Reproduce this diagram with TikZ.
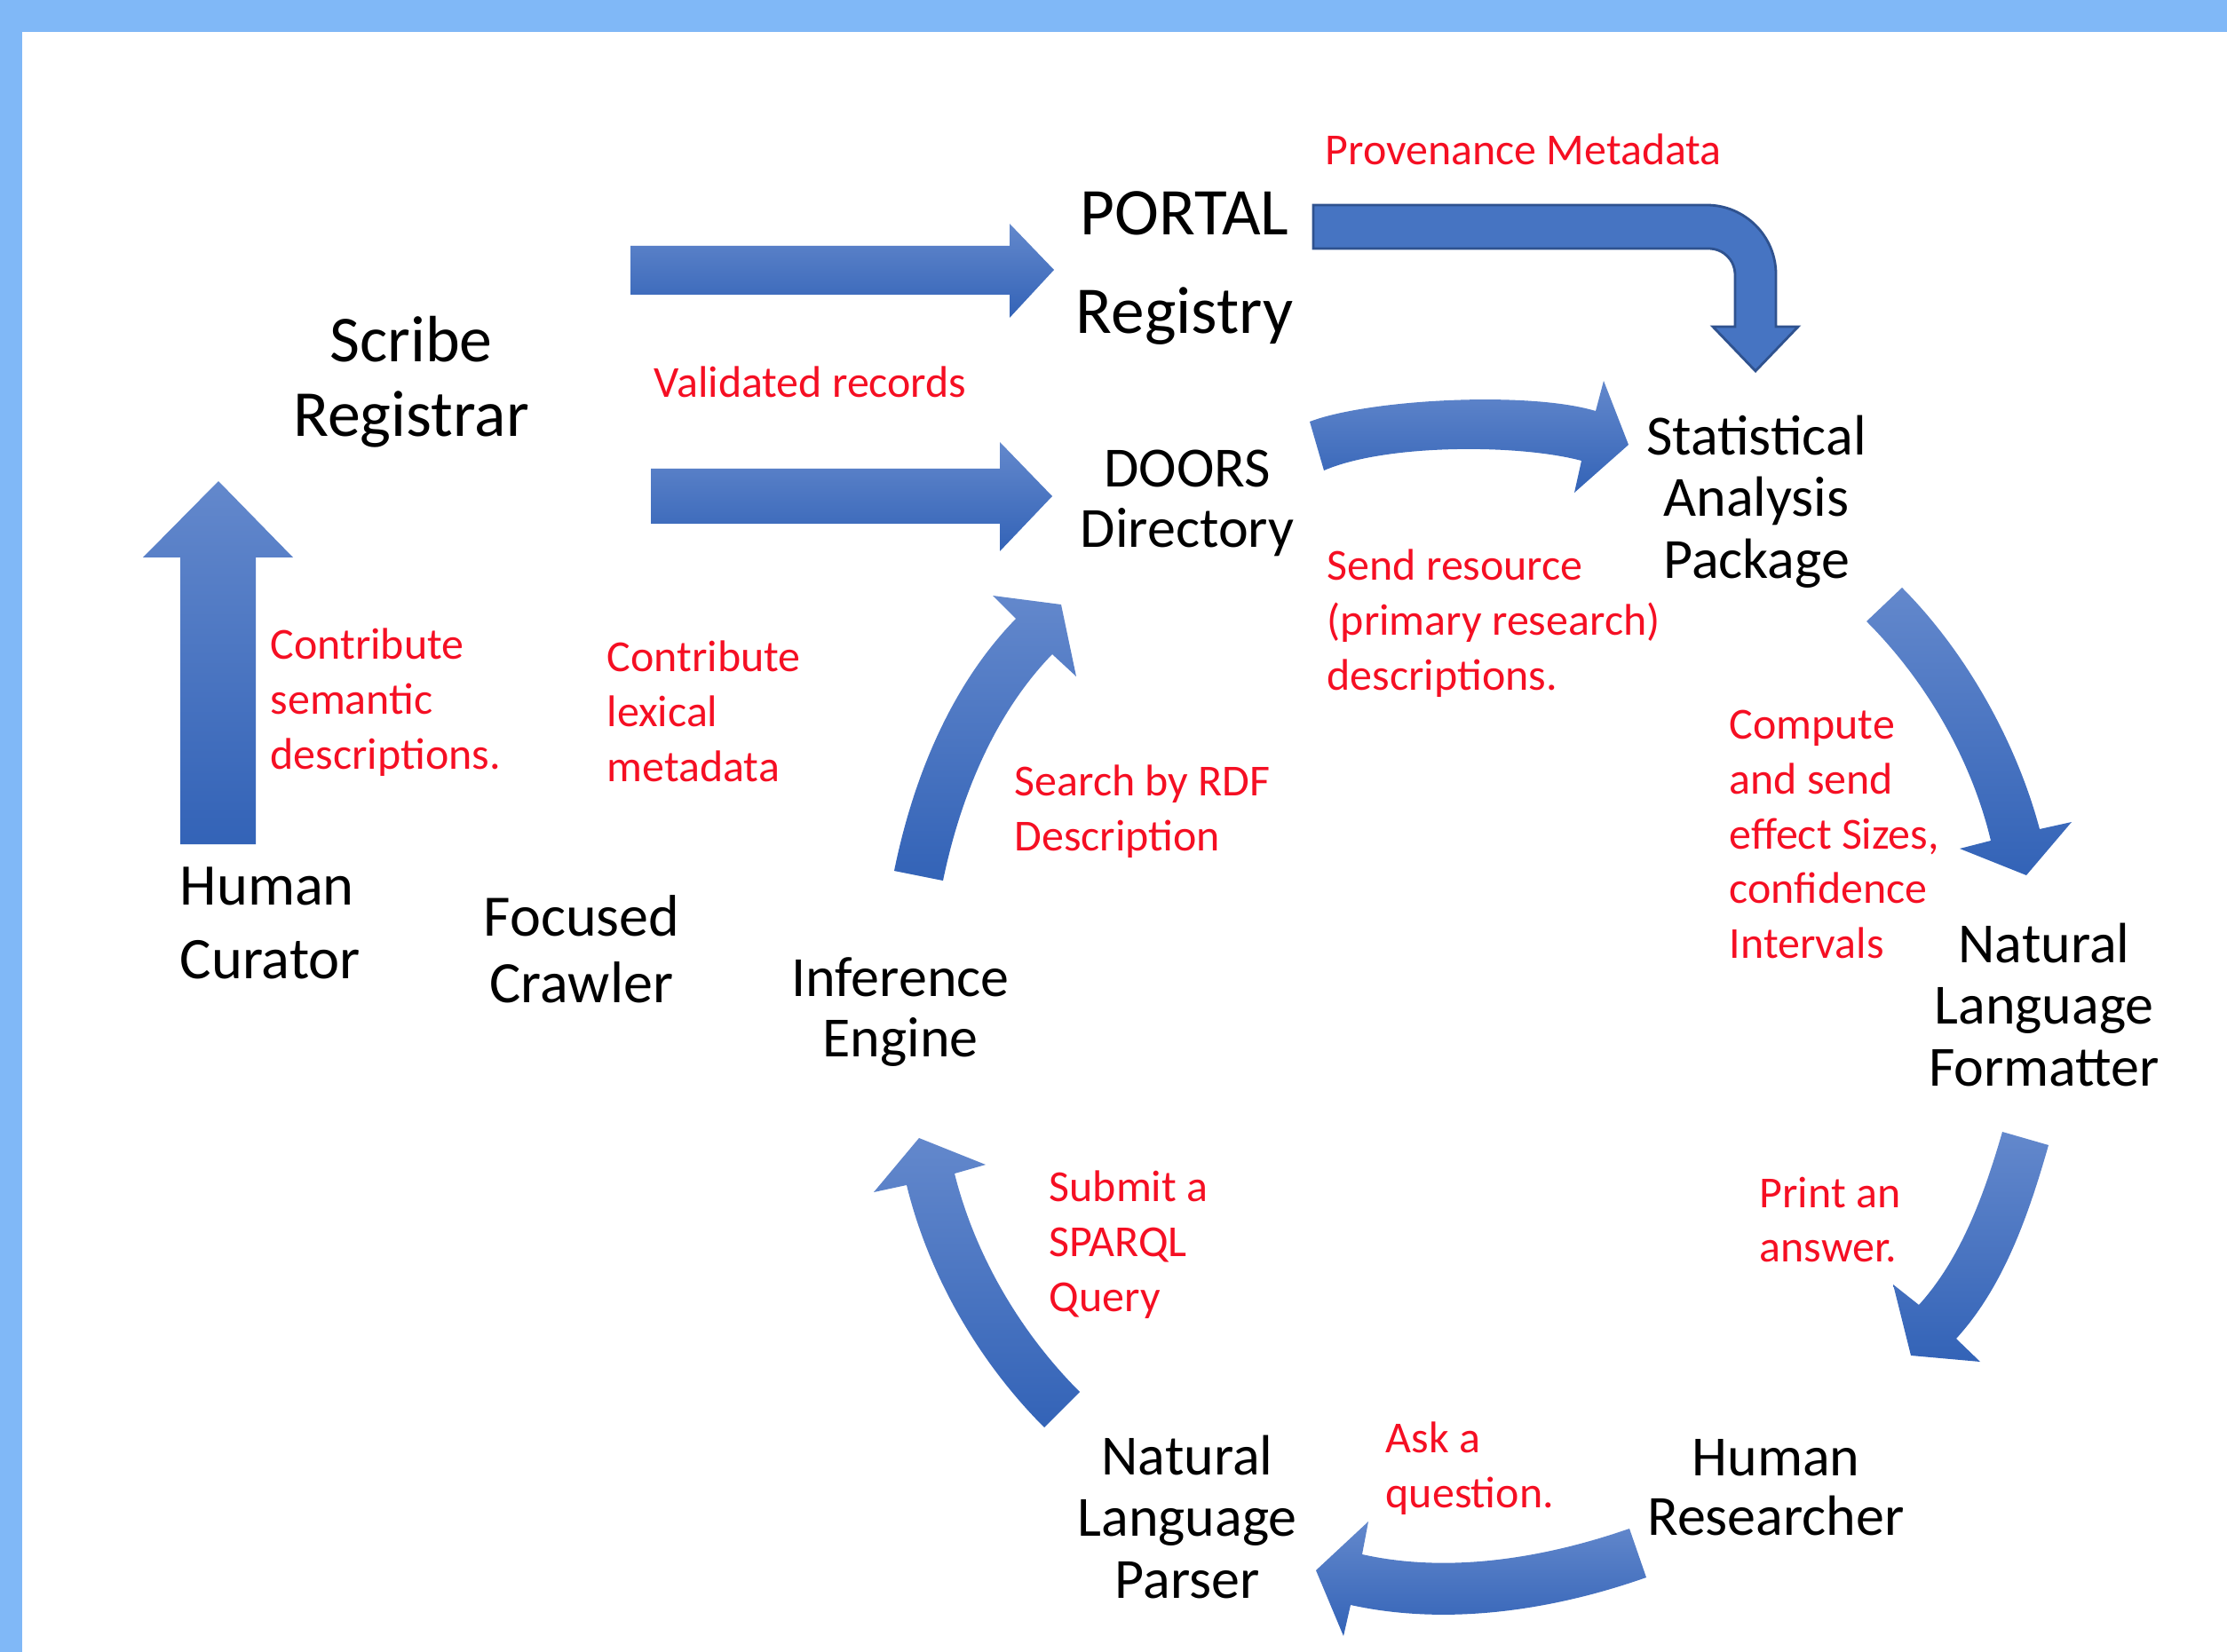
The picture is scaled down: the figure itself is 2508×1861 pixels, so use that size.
\documentclass[tikz,border=0pt]{standalone}
\usepackage{fontspec}
\setmainfont{Carlito}

\definecolor{frameblue}{RGB}{128,184,247}
\definecolor{arrtop}{RGB}{99,136,204}
\definecolor{arrbot}{RGB}{51,99,183}
\definecolor{arrflat}{RGB}{70,116,194}
\definecolor{arredge}{RGB}{47,82,143}
\definecolor{notered}{RGB}{245,15,35}

\begin{document}
\begin{tikzpicture}[x=0.01cm,y=-0.01cm,
    box/.style={font=\fontsize{18.2}{19.8}\selectfont,align=center,inner sep=0pt},
    note/.style={text=notered,font=\fontsize{14.2}{17.6}\selectfont,align=left,anchor=west,inner sep=0pt},
    blockarrow/.style={top color=arrtop,bottom color=arrbot,draw=none}]

    % frame
    \useasboundingbox (0,0) rectangle (2508,1861);
    \fill[frameblue] (0,0) rectangle (2508,1861);
    \fill[white] (25,36) rectangle (2508,1861);

    % components
    \node[box,font=\fontsize{21}{23.9}\selectfont]    (scribe)     at (463,430)  {Scribe\\Registrar};
    \node[box,font=\fontsize{21.4}{31.6}\selectfont]  (portal)     at (1334,302) {PORTAL\\Registry};
    \node[box,font=\fontsize{18.2}{19.3}\selectfont]  (doors)      at (1337,567) {DOORS\\Directory};
    \node[box]                                         (stat)       at (1978,565) {Statistical\\Analysis\\Package};
    \node[box,align=left,anchor=west,font=\fontsize{18.9}{23.6}\selectfont] (curator) at (202,1040) {Human\\Curator};
    \node[box,font=\fontsize{18.8}{21.3}\selectfont]  (crawler)    at (655,1069) {Focused\\Crawler};
    \node[box,font=\fontsize{18.2}{19.1}\selectfont]  (engine)     at (1014,1140) {Inference\\Engine};
    \node[box]                                         (formatter)  at (2302,1132) {Natural\\Language\\Formatter};
    \node[box,font=\fontsize{18.2}{19.1}\selectfont]  (researcher) at (2000,1676) {Human\\Researcher};
    \node[box]                                         (parser)     at (1337,1709) {Natural\\Language\\Parser};

    % flow labels
    \node[note] (prov)     at (1492,168)  {Provenance Metadata};
    \node[note] (valid)    at (736,430)   {Validated records};
    \node[note] (semantic) at (304,791)   {Contribute\\semantic\\descriptions.};
    \node[note] (lexical)  at (683,801)   {Contribute\\lexical\\metadata};
    \node[note] (search)   at (1142,914)  {Search by RDF\\Description};
    \node[note] (send)     at (1494,702)  {Send resource\\(primary research)\\descriptions.};
    \node[note] (effect)   at (1947,940)  {Compute\\and send\\effect Sizes,\\confidence\\Intervals};
    \node[note] (print)    at (1981,1374) {Print an\\answer.};
    \node[note] (sparql)   at (1181,1402) {Submit a\\SPARQL\\Query};
    \node[note] (ask)      at (1560,1654) {Ask a\\question.};

    % straight arrows
    \shade[blockarrow] (710,277) -- (1137,277) -- (1137,252) -- (1187,304)
        -- (1137,358) -- (1137,332) -- (710,332) -- cycle;
    \shade[blockarrow] (733,528) -- (1126,528) -- (1126,498) -- (1185,559)
        -- (1126,621) -- (1126,590) -- (733,590) -- cycle;
    \shade[blockarrow] (203,951) -- (203,628) -- (161,628) -- (246,542)
        -- (330,628) -- (288,628) -- (288,951) -- cycle;

    % bent arrow
    \filldraw[fill=arrflat,draw=arredge,line width=0.8pt] (1479,231) -- (1922,231)
        .. controls (1965,231) and (2000,266) .. (2000,309) -- (2000,368) -- (2025,368)
        -- (1977,418) -- (1929,368) -- (1954,368) -- (1954,310)
        .. controls (1954,293) and (1941,280) .. (1924,280) -- (1479,280) -- cycle;

    % curved arrows round the loop
    \shade[blockarrow] (1475,475) .. controls (1540,450) and (1720,440) .. (1797,463)
        -- (1806,429) -- (1834,501) -- (1773,555) -- (1781,519)
        .. controls (1710,500) and (1560,500) .. (1491,530) -- cycle;
    \shade[blockarrow] (2142,662) .. controls (2212,732) and (2270,833) .. (2297,934)
        -- (2333,926) -- (2282,986) -- (2207,956) -- (2242,947)
        .. controls (2220,855) and (2169,767) .. (2102,700) -- cycle;
    \shade[blockarrow] (2307,1290) .. controls (2285,1367) and (2257,1449) .. (2203,1508)
        -- (2230,1534) -- (2152,1527) -- (2132,1447) -- (2161,1470)
        .. controls (2209,1417) and (2235,1344) .. (2255,1275) -- cycle;
    \shade[blockarrow] (1835,1722) .. controls (1740,1755) and (1632,1773) .. (1534,1751)
        -- (1541,1714) -- (1482,1769) -- (1513,1843) -- (1521,1808)
        .. controls (1630,1832) and (1749,1814) .. (1854,1777) -- cycle;
    \shade[blockarrow] (1176,1608) .. controls (1102,1534) and (1046,1437) .. (1021,1335)
        -- (984,1343) -- (1035,1282) -- (1110,1312) -- (1075,1322)
        .. controls (1098,1414) and (1149,1501) .. (1216,1568) -- cycle;
    \shade[blockarrow] (1007,981) .. controls (1028,878) and (1070,773) .. (1144,697)
        -- (1118,671) -- (1195,681) -- (1212,762) -- (1185,737)
        .. controls (1119,805) and (1081,900) .. (1062,992) -- cycle;

\end{tikzpicture}
\end{document}
